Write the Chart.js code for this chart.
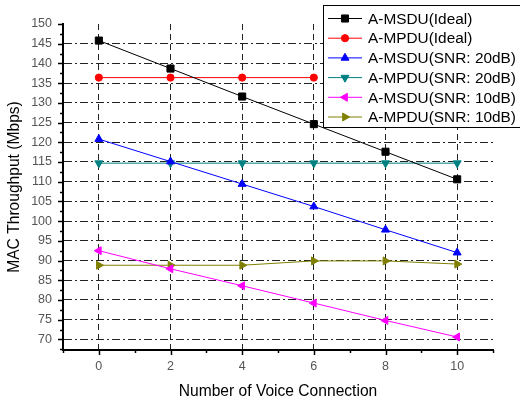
<!DOCTYPE html>
<html>
<head>
<meta charset="utf-8">
<script src="https://cdn.jsdelivr.net/npm/chart.js@4.4.0/dist/chart.umd.min.js"></script>
<style>
  html, body { margin: 0; padding: 0; background: #fff; }
  #wrap { width: 520px; height: 401px; }
</style>
</head>
<body>
<div id="wrap"><canvas id="myChart" width="520" height="401"></canvas></div>
<script>
// data
const voiceConnections = [0, 2, 4, 6, 8, 10];
const msduIdeal = [145.8, 138.7, 131.6, 124.6, 117.6, 110.6];
const mpduIdeal = [136.4, 136.4, 136.4, 136.4];
const msduSnr20 = [120.8, 115.1, 109.4, 103.7, 97.8, 92.0];
const mpduSnr20 = [114.7, 114.7, 114.7, 114.7, 114.7, 114.7];
const msduSnr10 = [92.5, 87.9, 83.6, 79.2, 74.8, 70.6];
const mpduSnr10 = [88.8, 88.8, 88.8, 89.9, 89.9, 89.1];

const xTicks = [0, 2, 4, 6, 8, 10];
const xMinorTicks = [-1, 1, 3, 5, 7, 9, 11];
const yTicks = [70, 75, 80, 85, 90, 95, 100, 105, 110, 115, 120, 125, 130, 135, 140, 145, 150];

const seriesNames = ['A-MSDU(Ideal)', 'A-MPDU(Ideal)', 'A-MSDU(SNR: 20dB)', 'A-MPDU(SNR: 20dB)', 'A-MSDU(SNR: 10dB)', 'A-MPDU(SNR: 10dB)'];

const fontFamily = '"Liberation Sans", Arial, sans-serif';

function pts(vals) {
    return vals.map((v, i) => ({ x: voiceConnections[i], y: v }));
}

function makeSet(label, vals, color, style, rot, radius) {
    return {
        label: label,
        data: pts(vals),
        borderColor: color,
        backgroundColor: color,
        borderWidth: 1,
        pointStyle: style,
        pointRotation: rot,
        pointRadius: radius,
        pointBorderWidth: 1,
        pointBorderColor: color,
        pointBackgroundColor: color,
        tension: 0
    };
}

const datasets = [
    makeSet(seriesNames[0], msduIdeal, '#000000', 'rect', 0, 5),
    makeSet(seriesNames[1], mpduIdeal, '#ff0000', 'circle', 0, 3.6),
    makeSet(seriesNames[2], msduSnr20, '#0000ff', 'triangle', 0, 4.6),
    makeSet(seriesNames[3], mpduSnr20, '#008080', 'triangle', 180, 4.6),
    makeSet(seriesNames[4], msduSnr10, '#ff00ff', 'triangle', 270, 4.6),
    makeSet(seriesNames[5], mpduSnr10, '#808000', 'triangle', 90, 4.6)
];

// tick marks (major + minor) outside the axes, plus the boxed legend
const tickMarks = {
    id: 'tickMarks',
    afterDraw(chart) {
        const ctx = chart.ctx;
        const xs = chart.scales.x, ys = chart.scales.y;
        const area = chart.chartArea;
        ctx.save();
        ctx.strokeStyle = '#000';
        ctx.lineWidth = 1.5;
        ctx.beginPath();
        xTicks.forEach(v => {
            const px = Math.round(xs.getPixelForValue(v)) + 0.5;
            ctx.moveTo(px, area.bottom); ctx.lineTo(px, area.bottom + 5);
        });
        xMinorTicks.forEach(v => {
            const px = Math.round(xs.getPixelForValue(v)) + 0.5;
            ctx.moveTo(px, area.bottom); ctx.lineTo(px, area.bottom + 3);
        });
        yTicks.forEach(v => {
            const py = Math.round(ys.getPixelForValue(v)) + 0.5;
            ctx.moveTo(area.left, py); ctx.lineTo(area.left - 5, py);
            const pm = Math.round(ys.getPixelForValue(v - 2.5)) + 0.5;
            if (pm < area.bottom) { ctx.moveTo(area.left, pm); ctx.lineTo(area.left - 3, pm); }
        });
        ctx.stroke();
        ctx.restore();

        // legend box
        const lx = 323, ly = 5, lw = 200, lh = 122;
        ctx.save();
        ctx.fillStyle = '#fff';
        ctx.fillRect(lx, ly, lw, lh);
        ctx.strokeStyle = '#000';
        ctx.lineWidth = 1;
        ctx.strokeRect(lx + 0.5, ly + 0.5, lw, lh);
        ctx.font = '15.4px ' + fontFamily;
        ctx.textBaseline = 'middle';
        chart.data.datasets.forEach((ds, i) => {
            const cy = 18.5 + i * 19.7;
            ctx.strokeStyle = ds.borderColor;
            ctx.lineWidth = 1;
            ctx.beginPath();
            ctx.moveTo(328, cy); ctx.lineTo(362, cy);
            ctx.stroke();
            ctx.fillStyle = ds.backgroundColor;
            Chart.helpers.drawPoint(ctx, {
                pointStyle: ds.pointStyle,
                rotation: ds.pointRotation,
                radius: ds.pointRadius,
                borderWidth: 1
            }, 345, cy);
            ctx.fillStyle = '#000';
            ctx.fillText(ds.label, 368, cy + 1);
        });
        ctx.restore();
    }
};

const ctx = document.getElementById('myChart').getContext('2d');
const myChart = new Chart(ctx, {
    type: 'line',
    data: { datasets: datasets },
    plugins: [tickMarks],
    options: {
        responsive: false,
        animation: false,
        layout: { padding: { top: 24, right: 27, left: 0, bottom: 0 } },
        plugins: {
            legend: { display: false },
            tooltip: { enabled: false }
        },
        scales: {
            x: {
                type: 'linear',
                min: -1,
                max: 11,
                afterFit: s => { s.height = 51; },
                afterBuildTicks: s => { s.ticks = xTicks.map(v => ({ value: v })); },
                grid: {
                    color: '#222',
                    lineWidth: 1,
                    drawTicks: false
                },
                border: { display: true, color: '#000', width: 2, dash: [6, 4] },
                ticks: {
                    padding: 9,
                    color: '#555',
                    font: { family: fontFamily, size: 12.5 }
                },
                title: {
                    display: true,
                    text: 'Number of Voice Connection',
                    color: '#000',
                    padding: { top: 0, bottom: 0 },
                    font: { family: fontFamily, size: 15.6 }
                }
            },
            y: {
                type: 'linear',
                min: 67.3,
                max: 150,
                afterFit: s => { s.width = 63; },
                afterBuildTicks: s => { s.ticks = yTicks.map(v => ({ value: v })); },
                grid: {
                    color: ctx => (ctx.tick && ctx.tick.value === 150) ? 'rgba(0,0,0,0)' : '#222',
                    lineWidth: 1,
                    drawTicks: false
                },
                border: { display: true, color: '#000', width: 2, dash: [8, 3, 2, 3] },
                ticks: {
                    padding: 11,
                    color: '#555',
                    font: { family: fontFamily, size: 12.5 }
                },
                title: {
                    display: true,
                    text: 'MAC Throughput (Mbps)',
                    color: '#000',
                    padding: { top: 5, bottom: 0 },
                    font: { family: fontFamily, size: 15.6 }
                }
            }
        }
    }
});
</script>
</body>
</html>
